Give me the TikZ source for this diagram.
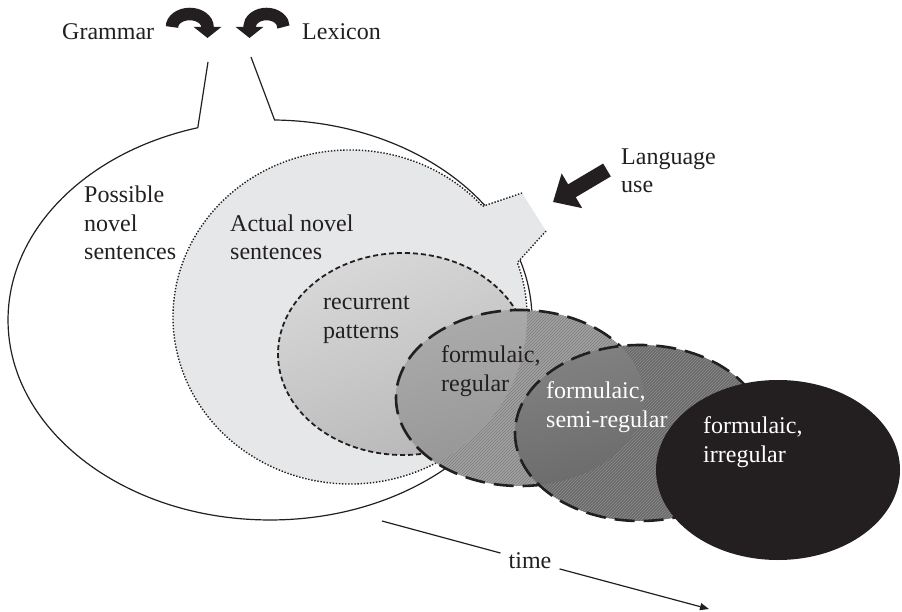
\documentclass[tikz,border=0pt]{standalone}
\usepackage{fontspec}
\setmainfont{Liberation Serif}
\usetikzlibrary{arrows.meta,patterns}
\definecolor{ink}{HTML}{231F20}
\definecolor{bubble}{HTML}{E6E7E8}
\definecolor{recLight}{HTML}{D8D8D8}
\definecolor{recDark}{HTML}{B8B8B8}
\definecolor{regBase}{HTML}{A2A2A2}
\definecolor{regHatch}{HTML}{7C7C7C}
\definecolor{regLight}{HTML}{C6C6C6}
\definecolor{regDark}{HTML}{979797}
\definecolor{semiBase}{HTML}{6A6A6A}
\definecolor{semiHatch}{HTML}{8E8E8E}
\definecolor{semiLight}{HTML}{8C8C8C}
\definecolor{semiDark}{HTML}{6C6C6C}
\begin{document}
\begin{tikzpicture}[x=1pt, y=-1pt,
  lbl/.style={font=\fontsize{24}{28.5}\selectfont, text=ink, inner sep=0pt, align=left, anchor=base west},
  lightlbl/.style={lbl, text=white},
  outline/.style={draw=ink, line width=1.2pt},
  dotline/.style={draw=ink, line width=1.4pt, dash pattern=on 1.4pt off 1.7pt},
  shortdash/.style={draw=ink, line width=1.8pt, dash pattern=on 5pt off 3pt},
  longdash/.style={draw=ink, line width=2.6pt, dash pattern=on 20pt off 9pt},
  bigarrow/.style={draw=ink, line width=12.5pt, -{Triangle[length=11pt,width=27pt]}},
]
\useasboundingbox (0,0) rectangle (902,612);

% speech-bubble outline of possible sentences
\coordinate (gtl) at (208,62);
\coordinate (gtr) at (251,57);
\path[outline] (gtr) -- (274.6,120)
  arc[start angle=-89, end angle=254, x radius=262, y radius=200] -- (gtl);

% actual novel sentences: grey bubble with a mouth towards language use
\fill[bubble] (350,317) ellipse[x radius=177, y radius=167];
\fill[bubble] (482.6,206.3) -- (522,193) -- (546,231) -- (517.4,262.6) -- cycle;
\path[dotline] (546,231) -- (517.4,262.6)
  arc[start angle=-19, end angle=318.5, x radius=177, y radius=167] -- (522,193);

% recurrent patterns
\shade[top color=recLight, bottom color=recDark, shading angle=20]
  (403,354) ellipse[x radius=125, y radius=101];
\path[shortdash] (403,354) ellipse[x radius=125, y radius=101];

% formulaic, regular
\fill[regBase] (520,398) ellipse[x radius=124, y radius=88];
\fill[pattern=north east lines, pattern color=regHatch] (520,398) ellipse[x radius=124, y radius=88];
\begin{scope}
  \clip (520,398) ellipse[x radius=124, y radius=88];
  \shade[top color=regLight, bottom color=regDark, shading angle=15]
    (350,317) ellipse[x radius=177, y radius=167];
  \draw[draw=gray!75, line width=0.9pt, dash pattern=on 1pt off 2pt]
    (350,317) ellipse[x radius=177, y radius=167];
\end{scope}
\path[longdash] (520,398) ellipse[x radius=124, y radius=88];

% formulaic, semi-regular
\fill[semiBase] (640,433) ellipse[x radius=125, y radius=88];
\fill[pattern=north east lines, pattern color=semiHatch] (640,433) ellipse[x radius=125, y radius=88];
\begin{scope}
  \clip (640,433) ellipse[x radius=125, y radius=88];
  \shade[top color=semiLight, bottom color=semiDark, shading angle=15]
    (520,398) ellipse[x radius=124, y radius=88];
\end{scope}
\path[longdash] (640,433) ellipse[x radius=125, y radius=88];

% formulaic, irregular
\fill[ink] (778,470) ellipse[x radius=122, y radius=90];

% labels (multi-line nodes are anchored at the baseline of their last line)
\node[lbl] (grammar) at (62,40) {Grammar};
\node[lbl] (lexicon) at (302,40) {Lexicon};
\node[lbl] (language) at (621,193) {Language\\use};
\node[lbl] (possible) at (84,260) {Possible\\novel\\sentences};
\node[lbl] (actual) at (230,260) {Actual novel\\sentences};
\node[lbl] (recurrent) at (323,338) {recurrent\\patterns};
\node[lbl] (regular) at (441,391) {formulaic,\\regular};
\node[lightlbl] (semi) at (546,427) {formulaic,\\semi-regular};
\node[lightlbl] (irregular) at (703,462) {formulaic,\\irregular};

% grammar and lexicon feeding into the bubble
\path[bigarrow] (172,27) arc[start angle=180, end angle=360, x radius=17.75, y radius=13] -- (207.5,38);
\path[bigarrow] (283.5,27) arc[start angle=0, end angle=-180, x radius=17, y radius=13] -- (249.5,38);

% language use entering the grey bubble
\coordinate (lu0) at (607,170);
\coordinate (lu1) at (553,202);
\draw[ink, line width=15pt, -{Triangle[length=22pt,width=39pt]}] (lu0) -- (lu1);

% time axis
\coordinate (t0) at (382,521);
\coordinate (t1) at (709,609);
\node[font=\fontsize{24}{28.5}\selectfont, text=ink, inner xsep=8pt, inner ysep=2pt] (time) at (530,561) {time};
\draw[ink, line width=1.2pt] (t0) -- (time);
\draw[ink, line width=1.2pt, -{Triangle[length=9pt,width=7pt]}] (time) -- (t1);
\end{tikzpicture}
\end{document}
